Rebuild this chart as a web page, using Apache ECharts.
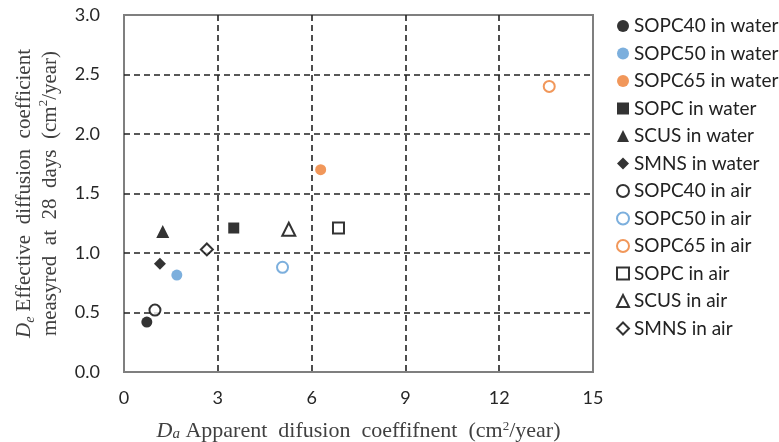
<!DOCTYPE html>
<html><head><meta charset="utf-8">
<script src="https://cdn.jsdelivr.net/npm/echarts@6/dist/echarts.min.js"></script>
<style>html,body{margin:0;padding:0;background:#fff}#c{width:779px;height:442px}</style>
</head><body><div id="c"></div>
<script>
const seriesNames = ['SOPC40 in water','SOPC50 in water','SOPC65 in water','SOPC in water','SCUS in water','SMNS in water',
  'SOPC40 in air','SOPC50 in air','SOPC65 in air','SOPC in air','SCUS in air','SMNS in air'];
const seriesX = [0.73, 1.69, 6.29, 3.51, 1.24, 1.15, 0.99, 5.07, 13.6, 6.86, 5.27, 2.65];
const seriesY = [0.42, 0.815, 1.70, 1.21, 1.18, 0.91, 0.52, 0.88, 2.40, 1.21, 1.20, 1.03];
const seriesSymbols = ['circle','circle','circle','rect','triangle','diamond',
  'emptyCircle','emptyCircle','emptyCircle','emptyRect','emptyTriangle','emptyDiamond'];
const seriesColors = ['#000','#5B9BD5','#ED7D31','#000','#000','#000','#000','#5B9BD5','#ED7D31','#000','#000','#000'];
const xTicks = [0,3,6,9,12,15];
const yTicks = [0,0.5,1,1.5,2,2.5,3];

const chart = echarts.init(document.getElementById('c'));
const dash = {type:[6,4], color:'#222', width:1.6};
const series = seriesNames.map((n,i)=>({
  name:n, type:'scatter',
  data:[[seriesX[i], seriesY[i]]],
  symbol: seriesSymbols[i],
  symbolSize: seriesSymbols[i].indexOf('riangle')>=0 ? 13 : (seriesSymbols[i].indexOf('iamond')>=0 ? 12 : 11),
  itemStyle: {color: seriesColors[i], borderColor: seriesColors[i], borderWidth: seriesSymbols[i].startsWith('empty') ? 2 : 0},
  emphasis:{disabled:true}
}));
const serif = 'Liberation Serif';
chart.setOption({
  animation:false,
  grid:{left:124, right:186, top:15, bottom:70, show:true, borderColor:'#7f7f7f', borderWidth:2,
    backgroundColor:'transparent', containLabel:false, outerBoundsMode:'none'},
  xAxis:{type:'value', min:xTicks[0], max:xTicks[xTicks.length-1], interval:3,
    axisLine:{show:false}, axisTick:{show:false},
    splitLine:{show:true, showMinLine:false, showMaxLine:false, lineStyle:dash},
    axisLabel:{fontFamily:'Lato', fontSize:18, color:'#262626', margin:17},
    name:'{i|D}{sub|a}{t| Apparent  difusion  coeffifnent  (cm}{sup|2}{t|/year)}',
    nameLocation:'middle', nameGap:48,
    nameTextStyle:{rich:{
      i:{fontFamily:serif, fontStyle:'italic', fontSize:22, color:'#404040'},
      sub:{fontFamily:serif, fontStyle:'italic', fontSize:15, color:'#404040', verticalAlign:'bottom'},
      t:{fontFamily:serif, fontSize:22, color:'#404040'},
      sup:{fontFamily:serif, fontSize:13, color:'#404040', verticalAlign:'top'}
    }}
  },
  yAxis:{type:'value', min:yTicks[0], max:yTicks[yTicks.length-1], interval:0.5,
    axisLine:{show:false}, axisTick:{show:false},
    splitLine:{show:true, showMinLine:false, showMaxLine:false, lineStyle:dash},
    axisLabel:{fontFamily:'Lato', fontSize:18, color:'#262626', margin:24, formatter:v=>v.toFixed(1)},
    name:'{i|D}{sub|e}{t| Effective  diffusion  coefficient}\n{t|measyred  at  28  days  (cm}{sup|2}{t|/year)}',
    nameLocation:'middle', nameGap:61, nameRotate:90,
    nameTextStyle:{lineHeight:26, rich:{
      i:{fontFamily:serif, fontStyle:'italic', fontSize:21, color:'#404040', lineHeight:26},
      sub:{fontFamily:serif, fontStyle:'italic', fontSize:14, color:'#404040', lineHeight:26, verticalAlign:'bottom'},
      t:{fontFamily:serif, fontSize:21, color:'#404040', lineHeight:26},
      sup:{fontFamily:serif, fontSize:13, color:'#404040', lineHeight:26, verticalAlign:'top'}
    }}
  },
  legend:{orient:'vertical', left:611, top:11.5, itemWidth:12, itemHeight:12, itemGap:8.5,
    textStyle:{fontFamily:'Lato', fontSize:19, color:'#222'},
    data:seriesNames},
  series
});
</script></body></html>
